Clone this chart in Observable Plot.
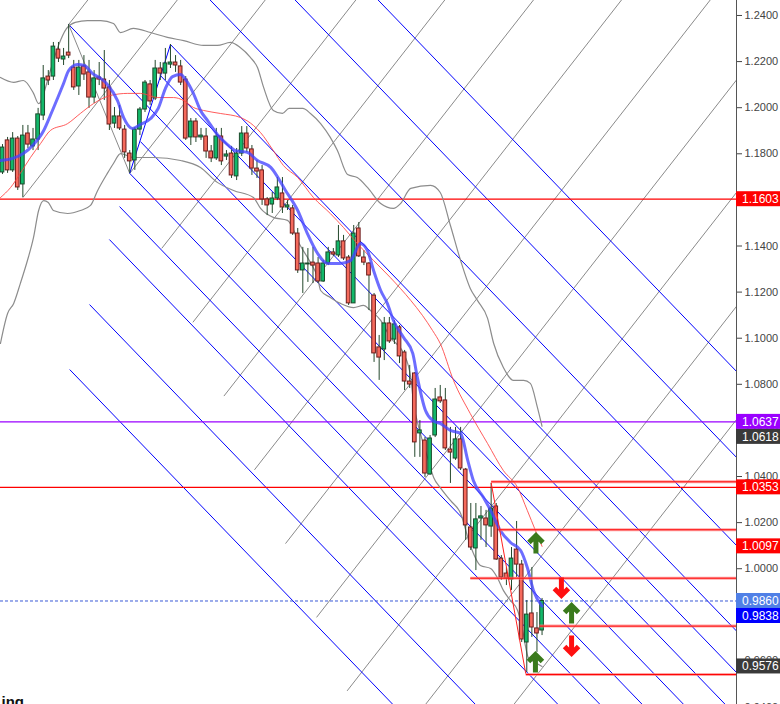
<!DOCTYPE html>
<html>
<head>
<meta charset="utf-8">
<script src="https://cdn.jsdelivr.net/npm/d3@7"></script>
<script src="https://cdn.jsdelivr.net/npm/@observablehq/plot@0.6"></script>
<style>
  body { margin: 0; background: #fff; }
  #chart { width: 780px; height: 704px; overflow: hidden; }
</style>
</head>
<body>
<div id="chart"></div>
<script>
// candles (bar index = position in the arrays)
const candleOpen = [1.1719,1.1858,1.1728,1.1866,1.1667,1.1888,1.1832,1.1862,1.1966,1.2135,1.2135,1.2252,1.2209,1.2239,1.2174,1.2092,1.2179,1.2153,1.2044,1.2131,1.2122,1.2088,1.1931,1.1962,1.1905,1.1801,1.1771,1.1905,1.1992,1.2101,1.2040,1.2170,1.2148,1.2187,1.2196,1.2179,1.2122,1.1871,1.1940,1.1871,1.1875,1.1810,1.1780,1.1875,1.1788,1.1801,1.1702,1.1801,1.1888,1.1819,1.1736,1.1728,1.1602,1.1580,1.1606,1.1628,1.1567,1.1563,1.1454,1.1294,1.1320,1.1328,1.1324,1.1246,1.1324,1.1372,1.1359,1.1420,1.1350,1.1151,1.1476,1.1350,1.1324,1.1185,1.0960,1.0951,1.1064,1.0994,1.1047,1.0938,1.0812,1.0847,1.0587,1.0556,1.0409,1.0578,1.0743,1.0730,1.0517,1.0478,1.0561,1.0430,1.0179,1.0088,1.0218,1.0218,1.0183,1.0270,1.0044,0.9979,0.9953,1.0083,1.0018,0.9680,0.9806,0.9741,0.9732];
const candleHigh = [1.1840,1.1871,1.1892,1.1875,1.1923,1.1923,1.1910,1.1997,1.2183,1.2161,1.2283,1.2283,1.2257,1.2361,1.2205,1.2205,1.2226,1.2205,1.2161,1.2196,1.2248,1.2118,1.2001,1.2010,1.1923,1.1814,1.1914,1.2001,1.2118,1.2118,1.2205,1.2196,1.2257,1.2274,1.2226,1.2205,1.2135,1.1953,1.1953,1.1910,1.1910,1.1836,1.1910,1.1910,1.1814,1.1832,1.1823,1.1918,1.1918,1.1836,1.1771,1.1749,1.1610,1.1632,1.1697,1.1697,1.1597,1.1576,1.1476,1.1394,1.1389,1.1394,1.1350,1.1337,1.1394,1.1389,1.1489,1.1446,1.1359,1.1489,1.1502,1.1380,1.1328,1.1194,1.1012,1.1090,1.1090,1.1077,1.1055,1.0947,1.0882,1.0851,1.0643,1.0569,1.0578,1.0782,1.0795,1.0782,1.0613,1.0613,1.0613,1.0435,1.0283,1.0283,1.0270,1.0253,1.0370,1.0283,1.0057,1.0005,1.0092,1.0205,1.0036,0.9862,1.0005,0.9810,0.9871];
const candleLow = [1.1710,1.1715,1.1719,1.1641,1.1610,1.1823,1.1814,1.1814,1.1944,1.2096,1.2118,1.2196,1.2183,1.2213,1.2075,1.2053,1.2118,1.1997,1.2018,1.2096,1.2031,1.1901,1.1910,1.1901,1.1780,1.1715,1.1728,1.1879,1.1979,1.2010,1.2031,1.2118,1.2118,1.2170,1.2153,1.2096,1.1858,1.1836,1.1849,1.1858,1.1780,1.1762,1.1771,1.1749,1.1771,1.1693,1.1684,1.1788,1.1806,1.1706,1.1693,1.1576,1.1532,1.1541,1.1597,1.1541,1.1554,1.1446,1.1281,1.1194,1.1242,1.1237,1.1237,1.1242,1.1315,1.1355,1.1350,1.1337,1.1142,1.1151,1.1350,1.1315,1.1120,1.0895,1.0817,1.0903,1.0977,1.0973,1.0890,1.0773,1.0782,1.0483,1.0483,1.0396,1.0405,1.0569,1.0717,1.0513,1.0370,1.0470,1.0426,1.0123,1.0079,0.9992,1.0123,1.0092,1.0136,1.0036,0.9949,0.9927,0.9906,0.9962,0.9680,0.9550,0.9702,0.9637,0.9710];
const candleClose = [1.1827,1.1728,1.1866,1.1654,1.1879,1.1840,1.1862,1.1971,1.2127,1.2118,1.2265,1.2213,1.2222,1.2226,1.2088,1.2174,1.2144,1.2044,1.2127,1.2122,1.2083,1.1927,1.1962,1.1910,1.1806,1.1767,1.1905,1.1992,1.2109,1.2027,1.2170,1.2148,1.2192,1.2196,1.2183,1.2109,1.1866,1.1940,1.1871,1.1879,1.1810,1.1780,1.1875,1.1767,1.1797,1.1706,1.1801,1.1888,1.1823,1.1736,1.1723,1.1602,1.1576,1.1606,1.1654,1.1567,1.1576,1.1454,1.1294,1.1324,1.1324,1.1315,1.1246,1.1324,1.1372,1.1363,1.1420,1.1346,1.1151,1.1454,1.1355,1.1328,1.1272,1.0934,1.0916,1.1064,1.0986,1.1060,1.0921,1.0812,1.0799,1.0548,1.0600,1.0413,1.0565,1.0734,1.0726,1.0522,1.0504,1.0561,1.0435,1.0188,1.0092,1.0214,1.0227,1.0188,1.0261,1.0040,0.9962,0.9958,1.0044,1.0018,0.9693,0.9801,0.9745,0.9719,0.9860];

// indicator lines, [bar, price] points
const maFast = [[-0.4,1.1771],[2.0,1.1780],[4.1,1.1801],[6.1,1.1840],[8.1,1.1901],[9.4,1.1966],[10.8,1.2040],[12.0,1.2105],[13.0,1.2161],[14.7,1.2187],[16.1,1.2183],[17.7,1.2148],[19.3,1.2127],[20.6,1.2101],[22.6,1.2031],[23.8,1.1957],[25.5,1.1910],[27.1,1.1927],[29.1,1.1953],[30.6,1.1997],[32.0,1.2083],[33.4,1.2135],[35.0,1.2144],[36.1,1.2118],[37.5,1.2062],[38.9,1.1988],[40.3,1.1944],[42.2,1.1884],[44.2,1.1840],[45.8,1.1814],[48.1,1.1806],[50.1,1.1771],[52.7,1.1741],[55.6,1.1641],[58.0,1.1554],[59.9,1.1454],[61.9,1.1368],[63.9,1.1324],[66.4,1.1324],[68.4,1.1337],[70.3,1.1411],[71.7,1.1380],[72.9,1.1294],[74.3,1.1207],[75.6,1.1151],[76.8,1.1077],[78.8,1.1003],[80.6,1.0934],[81.5,1.0830],[83.1,1.0686],[84.5,1.0643],[86.0,1.0630],[88.0,1.0600],[90.0,1.0587],[91.4,1.0470],[92.5,1.0383],[94.5,1.0309],[95.9,1.0253],[97.8,1.0166],[99.8,1.0114],[101.8,1.0079],[103.1,1.0005],[104.3,0.9906],[106,0.9838]];
const maSlow = [[-0.4,1.1610],[1.6,1.1654],[3.5,1.1715],[5.5,1.1784],[7.5,1.1845],[9.4,1.1901],[12.8,1.1931],[15.3,1.1975],[17.9,1.2018],[21.2,1.2053],[24.6,1.2062],[27.1,1.2062],[30.5,1.2044],[33.6,1.2044],[35.6,1.2031],[37.5,1.2001],[39.5,1.1988],[42.8,1.1975],[46.8,1.1957],[49.3,1.1923],[50.7,1.1892],[53.2,1.1814],[55.2,1.1749],[58.0,1.1697],[61.1,1.1610],[64.4,1.1541],[67.0,1.1480],[69.7,1.1411],[72.9,1.1337],[76.2,1.1263],[80.2,1.1164],[82.5,1.1099],[84.5,1.1033],[86.0,1.0977],[88.6,1.0817],[91.9,1.0673],[95.3,1.0543],[98.4,1.0426],[101.2,1.0352],[103.1,1.0253],[104.7,1.0166],[106,1.0097]];
const bandUpper = [[-0.4,1.2131],[2.2,1.2110],[4.1,1.2118],[6.1,1.2062],[7.1,1.2018],[9.4,1.2161],[11.0,1.2270],[12.6,1.2344],[14.3,1.2370],[16.7,1.2378],[19.3,1.2378],[21.8,1.2365],[23.2,1.2326],[25.7,1.2344],[29.1,1.2326],[32.4,1.2305],[35.6,1.2291],[39.5,1.2270],[42.2,1.2270],[44.8,1.2283],[46.7,1.2261],[48.7,1.2218],[50.1,1.2174],[51.3,1.2088],[53.2,1.1988],[55.0,1.1975],[56.3,1.1997],[59.0,1.1997],[60.5,1.1975],[62.5,1.1931],[64.4,1.1871],[65.8,1.1814],[67.8,1.1710],[69.7,1.1697],[71.7,1.1654],[74.3,1.1584],[76.8,1.1563],[78.2,1.1584],[80.2,1.1650],[84.1,1.1663],[86.0,1.1632],[88.0,1.1489],[90.0,1.1337],[91.9,1.1216],[93.3,1.1164],[95.3,1.1086],[96.5,1.0977],[98.4,1.0873],[100.4,1.0817],[102.4,1.0817],[103.7,1.0804],[105.1,1.0699],[106,1.0618]];
const bandLower = [[-0.4,1.0977],[1.0,1.1107],[2.2,1.1151],[3.5,1.1237],[4.9,1.1337],[6.1,1.1437],[7.1,1.1554],[8.1,1.1597],[9.0,1.1589],[10.0,1.1554],[12.8,1.1541],[15.3,1.1554],[17.3,1.1576],[18.7,1.1641],[20.6,1.1715],[21.8,1.1758],[23.2,1.1801],[25.7,1.1784],[29.7,1.1784],[35.0,1.1771],[38.9,1.1741],[42.2,1.1676],[45.4,1.1641],[49.3,1.1610],[50.7,1.1563],[53.2,1.1524],[56.0,1.1511],[58.5,1.1402],[60.5,1.1328],[61.9,1.1263],[62.5,1.1207],[64.4,1.1177],[66.4,1.1151],[69.0,1.1133],[70.9,1.1142],[72.3,1.1120],[74.3,1.1077],[76.2,1.1003],[78.8,1.0934],[80.2,1.0830],[80.7,1.0730],[82.1,1.0587],[83.5,1.0483],[84.7,1.0396],[86.0,1.0352],[88.0,1.0296],[90.0,1.0240],[91.9,1.0101],[93.9,1.0014],[95.9,1.0001],[97.2,0.9962],[98.4,0.9906],[99.8,0.9862],[101.2,0.9819],[102.2,0.9732],[102.8,0.9658],[103.3,0.9615],[104.7,0.9593],[106,0.9576]];

// drawn objects: [bar1, price1, bar2, price2]
const blueRays = [[13,1.2361,144.5,0.9354],[33,1.2274,144.5,0.9723],[31,1.2140,144.5,0.9543],[27.1,1.1853,144.5,0.9167],[25,1.1715,144.5,0.8981],[23,1.1571,144.5,0.8791],[21,1.1428,144.5,0.8602],[17.1,1.1146,144.5,0.8231],[13.2,1.0864,144.5,0.7860],[38,1.2531,144.5,1.0094],[55,1.2524,144.5,1.0476],[71,1.2531,144.5,1.0849]];
const grayRays = [[13,1.2361,18,1.2502],[4,1.1610,36,1.2514],[25,1.1715,56,1.2591],[31.3,1.1390,71,1.2512],[37.4,1.1069,90,1.2555],[43.5,1.0749,107,1.2543],[49.5,1.0429,125,1.2563],[55.6,1.0109,146,1.2664],[61.7,0.9789,146,1.2171],[67.7,0.9470,146,1.1683],[82,0.9380,146,1.1189],[99,0.9370,146,1.0698]];
const zigGray = [[13,1.2361,25,1.1715]];
const zigBlue = [[25,1.1715,33,1.2274]];
const zigRed = [[96,1.0373,102.8,0.9545]];

// retracement levels from the last swing
const fibStart = [96, 97.4, 91.9, 105.5, 102.8];
const fibPrice = [1.0377, 1.0169, 0.9959, 0.9751, 0.9541];

// full width levels and price tags
const levelPrice = [1.1603, 1.0637, 1.0353];
const levelKind = ["red", "purple", "red"];
const lastPrice = 0.9860;
const tagPrice = [1.1603, 1.0637, 1.0618, 1.0353, 1.0097, 0.9860, 0.9838, 0.9576];
const tagKind = ["red", "purple", "dark", "red", "red", "last", "blue", "dark"];

// signal arrows
const upArrowX = [104.8, 111.8, 104.7];
const upArrowY = [1.0066, 0.9762, 0.9550];
const downArrowX = [109.8, 111.8];
const downArrowY = [0.9962, 0.9710];

const yTicks = [0.94,0.96,0.98,1.00,1.02,1.04,1.06,1.08,1.10,1.12,1.14,1.16,1.18,1.20,1.22,1.24];
const xDomain = [-0.39, 144.2];
const yDomain = [0.9411, 1.2465];

const kindColor = {red: "#ff0000", purple: "#9a00ff", dark: "#3a3a3a", last: "#5080e6", blue: "#0000ff"};

const candles = candleOpen.map((o, i) => ({
  i, open: o, high: candleHigh[i], low: candleLow[i], close: candleClose[i], up: candleClose[i] >= o
}));
const levels = levelPrice.map((p, k) => ({p, kind: levelKind[k]}));
const fibs = fibPrice.map((p, k) => ({x1: fibStart[k], x2: xDomain[1], p}));
const upArrows = upArrowX.map((x, k) => ({x, y: upArrowY[k]}));
const downArrows = downArrowX.map((x, k) => ({x, y: downArrowY[k]}));

const chevron = {
  draw(context, l) {
    const w = 7;
    context.moveTo(0, 0);
    context.lineTo(0, -l + 1);
    context.moveTo(-w, -l + w);
    context.lineTo(0, -l);
    context.lineTo(w, -l + w);
  }
};

const seg = {x1: d => d[0], y1: d => d[1], x2: d => d[2], y2: d => d[3]};

const chart = Plot.plot({
  width: 780,
  height: 704,
  marginLeft: 0,
  marginRight: 44,
  marginTop: 0,
  marginBottom: 0,
  style: {fontFamily: "Liberation Sans, Arial, sans-serif", background: "#fff", color: "#444"},
  x: {domain: xDomain, axis: null},
  y: {domain: yDomain, axis: null},
  marks: [
    Plot.link(grayRays, {...seg, stroke: "#8a8a8a", strokeWidth: 1, clip: true}),
    Plot.link(blueRays, {...seg, stroke: "#0000ff", strokeWidth: 1, clip: true}),
    Plot.link(zigGray, {...seg, stroke: "#8a8a8a", strokeWidth: 1, clip: true}),
    Plot.link(zigBlue, {...seg, stroke: "#0000ff", strokeWidth: 1, clip: true}),
    Plot.ruleY(levels, {y: "p", stroke: d => kindColor[d.kind], strokeWidth: 1.2}),
    Plot.ruleY([lastPrice], {stroke: "#3a5ad6", strokeDasharray: "3,2", strokeWidth: 1}),
    Plot.line(bandUpper, {x: d => d[0], y: d => d[1], stroke: "#8c8c8c", strokeWidth: 1.2, curve: "monotone-x", clip: true}),
    Plot.line(bandLower, {x: d => d[0], y: d => d[1], stroke: "#8c8c8c", strokeWidth: 1.2, curve: "monotone-x", clip: true}),
    Plot.ruleX(candles, {x: "i", y1: "low", y2: "high", stroke: "#24482c", strokeWidth: 1}),
    Plot.rect(candles, {
      x1: d => d.i - 0.36, x2: d => d.i + 0.36, y1: "open", y2: "close",
      fill: d => d.up ? "#12b86a" : "#f56a5c",
      stroke: d => d.up ? "#1b4a2b" : "#6a1c1c", strokeWidth: 1
    }),
    Plot.line(maSlow, {x: d => d[0], y: d => d[1], stroke: "#ff4040", strokeOpacity: 0.85, strokeWidth: 1, curve: "monotone-x", clip: true}),
    Plot.line(maFast, {x: d => d[0], y: d => d[1], stroke: "#4444ff", strokeOpacity: 0.78, strokeWidth: 3, curve: "monotone-x", clip: true}),
    Plot.link(fibs, {x1: "x1", x2: "x2", y1: "p", y2: "p", stroke: "#ff8080", strokeOpacity: 0.7, strokeWidth: 3, clip: true}),
    Plot.link(fibs, {x1: "x1", x2: "x2", y1: "p", y2: "p", stroke: "#ff0000", strokeWidth: 1, clip: true}),
    Plot.link(zigRed, {...seg, stroke: "#ff2020", strokeWidth: 1, clip: true}),
    Plot.vector(upArrows, {x: "x", y: "y", length: 18, anchor: "start", shape: chevron, stroke: "#3a7a1c", strokeWidth: 5, strokeLinejoin: "miter", strokeLinecap: "butt"}),
    Plot.vector(downArrows, {x: "x", y: "y", length: 18, rotate: 180, anchor: "start", shape: chevron, stroke: "#ff1010", strokeWidth: 5, strokeLinejoin: "miter", strokeLinecap: "butt"}),
    Plot.ruleX([xDomain[1]], {stroke: "#555", strokeWidth: 1}),
    Plot.axisY({ticks: yTicks, anchor: "right", tickFormat: d3.format(".4f"), tickSize: 5, tickPadding: 3, fontSize: 11, label: null}),
    Plot.text(["ing"], {frameAnchor: "bottom-left", lineAnchor: "top", textAnchor: "start", dx: 1, dy: -8, fontSize: 15, fontWeight: "bold", fill: "#111"})
  ]
});

// coloured price tags on the right scale, pushed apart where they collide
const yScale = chart.scale("y");
const tags = tagPrice.map((v, k) => ({v, kind: tagKind[k], y: yScale.apply(v)})).sort((a, b) => a.y - b.y);
for (let k = 1; k < tags.length; k++) {
  if (tags[k].y < tags[k - 1].y + 15) tags[k].y = tags[k - 1].y + 15;
}
const g = d3.select(chart).append("g")
  .attr("font-family", "Liberation Sans, Arial, sans-serif")
  .attr("text-anchor", "start");
g.selectAll("rect").data(tags).join("rect")
  .attr("x", 736).attr("width", 44)
  .attr("y", d => d.y - 7.5).attr("height", 15)
  .attr("fill", d => kindColor[d.kind]);
g.selectAll("text").data(tags).join("text")
  .attr("x", 742).attr("y", d => d.y).attr("dy", "0.36em")
  .attr("fill", "#fff").attr("font-size", 12)
  .text(d => d3.format(".4f")(d.v));

d3.select('#chart').append(() => chart)
</script>
</body>
</html>
